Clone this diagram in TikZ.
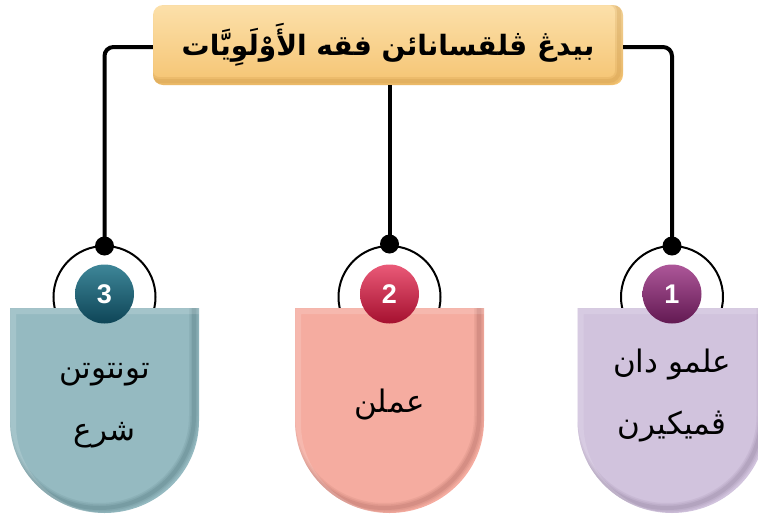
\documentclass[tikz,border=0pt]{standalone}
\usepackage{fontspec}
\TeXXeTstate=1
\newfontfamily\arabicfont[Script=Arabic]{DejaVu Sans}
\newfontfamily\numfont{Liberation Sans}
\definecolor{titletop}{HTML}{FCE0AA}
\definecolor{titlebot}{HTML}{F5C472}
\definecolor{titleedge}{HTML}{C08A3A}
\definecolor{boxC}{HTML}{95BAC1}
\definecolor{boxCedge}{HTML}{4F7379}
\definecolor{boxB}{HTML}{F5ACA0}
\definecolor{boxBedge}{HTML}{A9665C}
\definecolor{boxA}{HTML}{D1C3DD}
\definecolor{boxAedge}{HTML}{8A7897}
\definecolor{badgeClight}{HTML}{3E8698}
\definecolor{badgeCdark}{HTML}{0E4557}
\definecolor{badgeBlight}{HTML}{EA5A78}
\definecolor{badgeBdark}{HTML}{A5102F}
\definecolor{badgeAlight}{HTML}{AD5799}
\definecolor{badgeAdark}{HTML}{621952}
\newcommand\tagshape[1]{({#1-94.5},308) -- ({#1+94.5},308) -- ({#1+94.5},421) .. controls ({#1+94.5},471.8) and ({#1+52.2},513) .. ({#1},513) .. controls ({#1-52.2},513) and ({#1-94.5},471.8) .. ({#1-94.5},421) -- cycle}
\newcommand\drawtag[3]{%
  \fill[#2] \tagshape{#1};
  \begin{scope}
    \clip \tagshape{#1};
    \draw[line width=10pt, draw=#3, opacity=0.12, shift={(-5,-5)}] \tagshape{#1};
    \draw[line width=7pt, draw=#3, opacity=0.15, shift={(-5,-5)}] \tagshape{#1};
    \draw[line width=4pt, draw=#3, opacity=0.2, shift={(-5,-5)}] \tagshape{#1};
    \draw[line width=6pt, draw=white, opacity=0.15, shift={(3,3)}] \tagshape{#1};
  \end{scope}}
\tikzset{
  conn/.style={line width=4pt, rounded corners=9pt},
  ring/.style={line width=2pt, draw=black},
  dotn/.style={circle, fill=black, minimum size=19pt, inner sep=0pt},
  badge/.style={circle, minimum size=59pt, inner sep=0pt, text=white,
    font=\numfont\bfseries\fontsize{27}{30}\selectfont, shading angle=35},
  tagtext/.style={align=center, text=black,
    font=\arabicfont\fontsize{31}{62}\selectfont},
  titlebox/.style={rounded corners=10pt, minimum width=470pt, minimum height=80pt,
    top color=titletop, bottom color=titlebot, inner sep=0pt,
    font=\arabicfont\bfseries\fontsize{28}{32}\selectfont,
    path picture={
      \draw[line width=8pt, draw=titleedge, opacity=0.18, rounded corners=10pt]
        ([xshift=-4pt,yshift=4pt]path picture bounding box.south west) rectangle
        ([xshift=-4pt,yshift=4pt]path picture bounding box.north east);
      \draw[line width=4pt, draw=titleedge, opacity=0.2, rounded corners=10pt]
        ([xshift=-4pt,yshift=4pt]path picture bounding box.south west) rectangle
        ([xshift=-4pt,yshift=4pt]path picture bounding box.north east);
    }},
}
\begin{document}
\begin{tikzpicture}[x=1pt,y=-1pt]
\useasboundingbox (0,0) rectangle (758,517);
\coordinate (c3) at (104.5,297);
\coordinate (c2) at (389.5,297);
\coordinate (c1) at (672,297);
% title
\node[titlebox] (title) at (388,45) {\beginR بيدڠ ڤلقسانائن فقه الأَوْلَوِيَّات\endR};
% dots
\node[dotn] (d3) at (104.5,246) {};
\node[dotn] (d2) at (389.5,244) {};
\node[dotn] (d1) at (672,246) {};
% connectors
\draw[conn] ([yshift=-2pt]title.west) -- ([yshift=-2pt]title.west -| d3) -- (d3.center);
\draw[conn] ([yshift=-2pt]title.east) -- ([yshift=-2pt]title.east -| d1) -- (d1.center);
\draw[conn] (title.south -| d2) -- (d2.center);
% rings
\draw[ring] (c3) circle[radius=51];
\draw[ring] (c2) circle[radius=51];
\draw[ring] (c1) circle[radius=51];
% boxes
\drawtag{104.5}{boxC}{boxCedge}
\drawtag{389.5}{boxB}{boxBedge}
\drawtag{672}{boxA}{boxAedge}
% badges
\node[badge, top color=badgeClight, bottom color=badgeCdark] (b3) at (104.5,294) {3};
\node[badge, top color=badgeBlight, bottom color=badgeBdark] (b2) at (389.5,294) {2};
\node[badge, top color=badgeAlight, bottom color=badgeAdark] (b1) at (672,294) {1};
% texts
\node[tagtext] (t3) at (104.5,406) {\beginR تونتوتن\endR\\\beginR شرع\endR};
\node[tagtext] (t2) at (389.5,405) {\beginR عملن\endR};
\node[tagtext] (t1) at (672,396) {\beginR علمو دان\endR\\\beginR ڤميكيرن\endR};
\end{tikzpicture}
\end{document}
